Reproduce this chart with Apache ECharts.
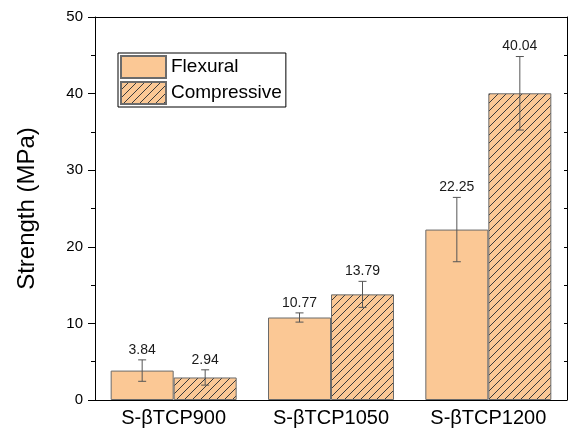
<!DOCTYPE html>
<html>
<head>
<meta charset="utf-8">
<script src="https://cdn.jsdelivr.net/npm/echarts@6/dist/echarts.min.js"></script>
<style>
html,body{margin:0;padding:0;background:#fff;}
#chart{width:571px;height:430px;}
</style>
</head>
<body>
<div id="chart"></div>
<script>
var categories = ['S-\u03b2TCP900', 'S-\u03b2TCP1050', 'S-\u03b2TCP1200'];
var flexural = [3.84, 10.77, 22.25];
var flexuralErr = [1.4, 0.6, 4.2];
var compressive = [2.94, 13.79, 40.04];
var compressiveErr = [1.0, 1.7, 4.8];
var yTicks = [0, 10, 20, 30, 40, 50];

var FONT = "'Liberation Sans', Arial, sans-serif";
var FILL = '#FBC895';
var EDGE = '#6b6b6b';

function hatch() {
  var c = document.createElement('canvas');
  c.width = 8; c.height = 8;
  var g = c.getContext('2d');
  g.fillStyle = FILL;
  g.fillRect(0, 0, 8, 8);
  g.strokeStyle = '#3a3a3a';
  g.lineWidth = 1;
  g.beginPath();
  g.moveTo(-1, 9); g.lineTo(9, -1);
  g.moveTo(-1, 1); g.lineTo(1, -1);
  g.moveTo(7, 9); g.lineTo(9, 7);
  g.stroke();
  return c;
}

var chart = echarts.init(document.getElementById('chart'), null, {renderer: 'canvas'});
var BW = 63;

function errSeries(vals, errs, off) {
  return {
    type: 'custom',
    xAxisIndex: 0, yAxisIndex: 0,
    z: 10,
    silent: true,
    data: vals.map(function (v, i) { return [i, v, errs[i]]; }),
    renderItem: function (params, api) {
      var i = api.value(0), v = api.value(1), e = api.value(2);
      var x = api.coord([i, 0])[0] + off;
      var yt = api.coord([i, v + e])[1];
      var yb = api.coord([i, v - e])[1];
      var cap = 4;
      var st = {stroke: '#555', lineWidth: 1};
      return {
        type: 'group',
        children: [
          {type: 'line', shape: {x1: x, y1: yt, x2: x, y2: yb}, style: st},
          {type: 'line', shape: {x1: x - cap, y1: yt, x2: x + cap, y2: yt}, style: st},
          {type: 'line', shape: {x1: x - cap, y1: yb, x2: x + cap, y2: yb}, style: st},
          {type: 'text', style: {text: v.toFixed(2), x: x, y: yt - 3, align: 'center', verticalAlign: 'bottom', fill: '#1a1a1a', font: '14px ' + FONT}}
        ]
      };
    }
  };
}

var option = {
  animation: false,
  backgroundColor: '#fff',
  grid: {left: 95, right: 4, top: 17, bottom: 30},
  legend: {
    data: ['Flexural', 'Compressive'],
    orient: 'vertical',
    left: 118, top: 53,
    itemWidth: 45, itemHeight: 22, itemGap: 2,
    padding: [2, 4, 2, 2],
    borderColor: '#000', borderWidth: 1,
    backgroundColor: '#fff',
    icon: 'rect',
    textStyle: {fontFamily: FONT, fontSize: 19, color: '#000'}
  },
  xAxis: [
    {type: 'category', position: 'bottom', data: categories,
     axisLine: {lineStyle: {color: '#000', width: 1}},
     axisTick: {alignWithLabel: true, length: 7, lineStyle: {color: '#000'}},
     axisLabel: {fontFamily: FONT, fontSize: 20, color: '#000', margin: 8}},
    {type: 'category', position: 'bottom', data: categories,
     axisLine: {show: false},
     axisTick: {length: 4, lineStyle: {color: '#000'}},
     axisLabel: {show: false}},
    {type: 'category', position: 'bottom', data: categories,
     axisLine: {show: false},
     axisTick: {alignWithLabel: true, inside: true, length: 3, lineStyle: {color: '#000'}},
     axisLabel: {show: false}},
    {type: 'category', position: 'top', data: categories,
     axisLine: {lineStyle: {color: '#000', width: 1}},
     axisTick: {alignWithLabel: true, inside: true, length: 4, lineStyle: {color: '#000'}},
     axisLabel: {show: false}},
    {type: 'category', position: 'top', data: categories,
     axisLine: {show: false},
     axisTick: {inside: true, length: 4, lineStyle: {color: '#000'}},
     axisLabel: {show: false}}
  ],
  yAxis: [
    {type: 'value', position: 'left', min: yTicks[0], max: yTicks[yTicks.length - 1], interval: 10,
     name: 'Strength (MPa)', nameLocation: 'middle', nameGap: 56,
     nameTextStyle: {fontFamily: FONT, fontSize: 24, color: '#000'},
     axisLine: {show: true, lineStyle: {color: '#000', width: 1}},
     axisTick: {show: true, length: 7, lineStyle: {color: '#000'}},
     minorTick: {show: true, splitNumber: 2, length: 4, lineStyle: {color: '#000'}},
     splitLine: {show: false},
     axisLabel: {fontFamily: FONT, fontSize: 15, color: '#000', margin: 12}},
    {type: 'value', position: 'right', min: 0, max: 50, interval: 10,
     axisLine: {show: true, lineStyle: {color: '#000', width: 1}},
     axisTick: {show: true, inside: true, length: 3, lineStyle: {color: '#000'}},
     minorTick: {show: true, splitNumber: 2, length: 3, lineStyle: {color: '#000'}},
     splitLine: {show: false},
     axisLabel: {show: false}}
  ],
  series: [
    {name: 'Flexural', type: 'bar', xAxisIndex: 0, yAxisIndex: 0, data: flexural,
     barWidth: BW, barGap: '0%',
     itemStyle: {color: FILL, borderColor: EDGE, borderWidth: 1}},
    {name: 'Compressive', type: 'bar', xAxisIndex: 0, yAxisIndex: 0, data: compressive,
     barWidth: BW, barGap: '0%',
     itemStyle: {color: {image: hatch(), repeat: 'repeat'}, borderColor: EDGE, borderWidth: 1}},
    errSeries(flexural, flexuralErr, -BW / 2),
    errSeries(compressive, compressiveErr, BW / 2)
  ]
};
chart.setOption(option);
</script>
</body>
</html>
